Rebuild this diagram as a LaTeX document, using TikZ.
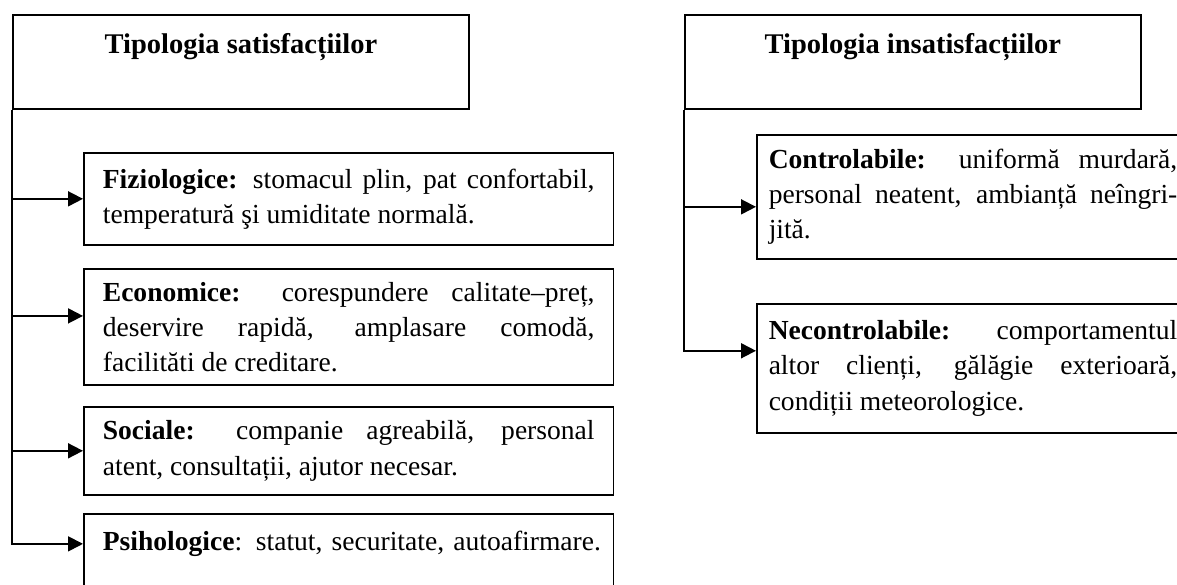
\documentclass[tikz,border=0pt]{standalone}
\usepackage{fontspec}
\setmainfont{Liberation Serif}
\usetikzlibrary{arrows.meta,positioning}
\hyphenpenalty=10000

\begin{document}
\begin{tikzpicture}[x=0.42105pt,y=-0.42105pt,line width=0.75pt,
  every node/.style={font=\fontsize{11.6pt}{14.8pt}\selectfont},
  headbox/.style={draw,anchor=north west,minimum width=192pt,inner ysep=4pt,
    text height=12.4pt,text depth=19.2pt,font=\fontsize{12pt}{14.8pt}\selectfont\bfseries},
  itembox/.style={draw,anchor=north west,text width=207pt,inner xsep=8pt,
    inner ysep=3pt,align=justify},
  ritembox/.style={itembox,text width=172pt,inner xsep=5pt},
  arr/.style={-{Triangle[length=6.3pt,width=6.3pt]}}]
\useasboundingbox (0,0) rectangle (1177,585);
\clip (0,0) rectangle (1177,585);

% satisfactii
\node[headbox] (sat) at (12,14) {Tipologia satisfacțiilor};
\node[itembox,minimum height=38.7pt] (fiz) at (83,152)
  {\textbf{Fiziologice:} stomacul plin, pat confortabil,\linebreak temperatură şi umiditate normală.};
\node[itembox,minimum height=48.8pt] (econ) at (83,268)
  {\textbf{Economice:} corespundere calitate--preț,\linebreak deservire rapidă, amplasare comodă,\linebreak facilităti de creditare.};
\node[itembox,minimum height=37pt] (soc) at (83,406)
  {\textbf{Sociale:} companie agreabilă, personal\linebreak atent, consultații, ajutor necesar.};
\node[itembox,align=left,inner ysep=4pt,text height=11.6pt,text depth=30pt] (psih) at (83,513)
  {\mbox{\textbf{Psihologice}: statut, securitate, autoafirmare.}};
\draw[arr] (sat.south west) |- ([yshift=-13pt]psih.north west);
\draw[arr] (fiz.west -| sat.south west) -- (fiz.west);
\draw[arr] ([yshift=4.6pt]econ.west -| sat.south west) -- ([yshift=4.6pt]econ.west);
\draw[arr] (soc.west -| sat.south west) -- (soc.west);

% insatisfactii
\node[headbox] (insat) at (684,14) {Tipologia insatisfacțiilor};
\node[ritembox,minimum height=52.2pt] (contr) at (756,134)
  {\textbf{Controlabile:} uniformă murdară,\linebreak personal neatent, ambianță neîngri-\linebreak jită.};
\node[ritembox,minimum height=54.3pt] (necon) at (756,303)
  {\textbf{Necontrolabile:} comportamentul\linebreak altor clienți, gălăgie exterioară,\linebreak condiții meteorologice.};
\draw[arr] (insat.south west) |- ([yshift=7.4pt]necon.west);
\draw[arr] ([yshift=-4.2pt]contr.west -| insat.south west) -- ([yshift=-4.2pt]contr.west);
\end{tikzpicture}
\end{document}
